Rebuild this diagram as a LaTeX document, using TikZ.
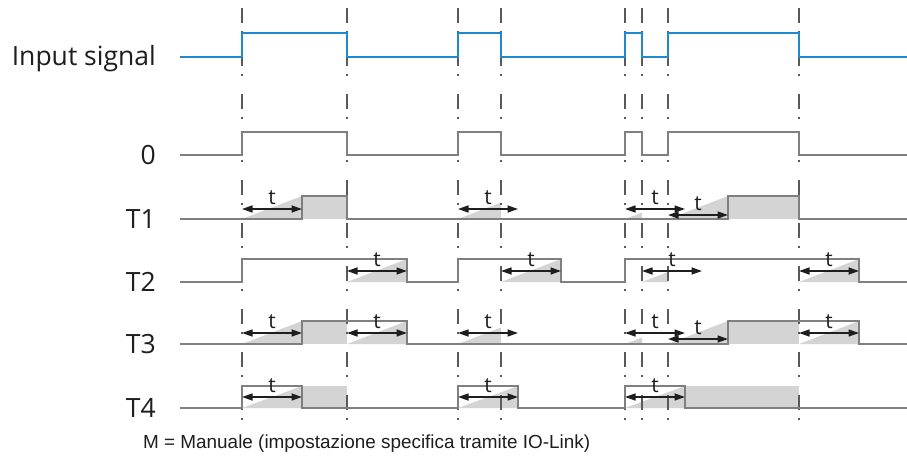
\documentclass[tikz,border=0pt]{standalone}
\usepackage{fontspec}
\setmainfont{Open Sans}
\newfontfamily\footfont{Liberation Sans}
\usetikzlibrary{arrows.meta,calc}
\definecolor{sigblue}{HTML}{1E88D0}
\definecolor{siggray}{HTML}{7F7F7F}
\definecolor{fillgray}{HTML}{D4D4D4}
\definecolor{dashgray}{HTML}{5A5A5A}
\definecolor{txt}{HTML}{1E1E1E}
% wedge: y low, x1, x2, y top at x2
\newcommand{\wdg}[4]{\fill[fillgray] (#2,#1) -- (#3,#4) -- (#3,#1) -- cycle;}
% dimension arrow: name, y, x1, x2
\newcommand{\tdim}[4]{%
  \coordinate (#1a) at (#3,#2);
  \coordinate (#1b) at (#4,#2);
  \draw[tarrow] (#1a) -- (#1b);
  \node[tlab] (#1t) at ($(#1a)!0.5!(#1b)+(0,-11)$) {t};}
\begin{document}
\begin{tikzpicture}[x=1pt,y=-1pt,
  sig/.style={siggray, line width=2.2pt, line join=miter},
  insig/.style={sigblue, line width=2.2pt, line join=miter},
  guide/.style={dashgray, line width=1.3pt, dash pattern=on 15pt off 8pt on 2pt off 18pt},
  tarrow/.style={txt, line width=1.4pt, {Triangle[length=10.5pt,width=7pt]}-{Triangle[length=10.5pt,width=7pt]}},
  tlab/.style={txt, font=\fontsize{21}{21}\selectfont, inner sep=0pt},
  rowlab/.style={txt, font=\fontsize{26.5}{26.5}\selectfont, anchor=base east, inner sep=0pt},
]
\useasboundingbox (0,0) rectangle (907,464);
\fill[white] (0,0) rectangle (907,464);

% ---- gray fills and wedges ----
% T1
\wdg{219}{242}{302}{196}
\fill[fillgray] (302,196) rectangle (347,219);
\wdg{219}{458}{501}{202.5}
\wdg{219}{625}{642}{212.5}
\wdg{219}{668}{728}{196}
\fill[fillgray] (728,196) rectangle (799,219);
% T2
\wdg{282}{347}{407}{259}
\wdg{282}{501}{561}{259}
\wdg{282}{642}{668}{272}
\wdg{282}{799}{859}{259}
% T3
\wdg{344}{242}{302}{321}
\fill[fillgray] (302,321) rectangle (347,344);
\wdg{344}{347}{407}{321}
\wdg{344}{458}{501}{327.5}
\wdg{344}{625}{642}{337.5}
\wdg{344}{668}{728}{321}
\fill[fillgray] (728,321) rectangle (799,344);
\wdg{344}{799}{859}{321}
% T4
\wdg{408}{242}{302}{386}
\fill[fillgray] (302,386) rectangle (347,408);
\wdg{408}{458}{518}{386}
\wdg{408}{625}{685}{386}
\fill[fillgray] (685,386) rectangle (799,408);

% ---- guide lines ----
\foreach \gx in {242,347,458,501,625,642,668,799}
  \draw[guide] (\gx,8) -- (\gx,420);

% ---- signals ----
\draw[insig] (180,57) -- (242,57) -- (242,33) -- (347,33) -- (347,57) -- (458,57) -- (458,33) -- (501,33) -- (501,57)
  -- (625,57) -- (625,33) -- (642,33) -- (642,57) -- (668,57) -- (668,33) -- (799,33) -- (799,57) -- (907,57);
\draw[sig] (180,155) -- (242,155) -- (242,132) -- (347,132) -- (347,155) -- (458,155) -- (458,132) -- (501,132) -- (501,155)
  -- (625,155) -- (625,132) -- (642,132) -- (642,155) -- (668,155) -- (668,132) -- (799,132) -- (799,155) -- (907,155);
\draw[sig] (180,219) -- (302,219) -- (302,196) -- (347,196) -- (347,219) -- (728,219) -- (728,196) -- (799,196) -- (799,219) -- (907,219);
\draw[sig] (180,282) -- (242,282) -- (242,259) -- (407,259) -- (407,282) -- (458,282) -- (458,259) -- (561,259) -- (561,282)
  -- (625,282) -- (625,259) -- (859,259) -- (859,282) -- (907,282);
\draw[sig] (180,344) -- (302,344) -- (302,321) -- (407,321) -- (407,344) -- (728,344) -- (728,321) -- (859,321) -- (859,344) -- (907,344);
\draw[sig] (180,408) -- (242,408) -- (242,386) -- (302,386) -- (302,408) -- (458,408) -- (458,386) -- (518,386) -- (518,408)
  -- (625,408) -- (625,386) -- (685,386) -- (685,408) -- (907,408);

% ---- time arrows ----
\tdim{ta}{209}{242}{302}
\tdim{tb}{209}{458}{518}
\tdim{tc}{209}{625}{685}
\tdim{td}{215}{668}{728}
\tdim{te}{271}{347}{407}
\tdim{tf}{271}{501}{561}
\tdim{tg}{271}{642}{702}
\tdim{th}{271}{799}{859}
\tdim{ti}{333}{242}{302}
\tdim{tj}{333}{347}{407}
\tdim{tk}{333}{458}{518}
\tdim{tl}{333}{625}{685}
\tdim{tm}{339}{668}{728}
\tdim{tn}{333}{799}{859}
\tdim{to}{397}{242}{302}
\tdim{tp}{397}{458}{518}
\tdim{tq}{397}{625}{685}

% ---- labels ----
\node[rowlab] (lin) at (156,65) {Input signal};
\node[rowlab] (lz) at (156,164) {0};
\node[rowlab] (l1) at (156,228) {T1};
\node[rowlab] (l2) at (156,291) {T2};
\node[rowlab] (l3) at (156,353) {T3};
\node[rowlab] (l4) at (156,417) {T4};
\node[txt, anchor=base west, inner sep=0pt, font=\footfont\fontsize{18.9}{18.9}\selectfont] (foot) at (143,448)
  {M = Manuale (impostazione specifica tramite IO-Link)};
\end{tikzpicture}
\end{document}
